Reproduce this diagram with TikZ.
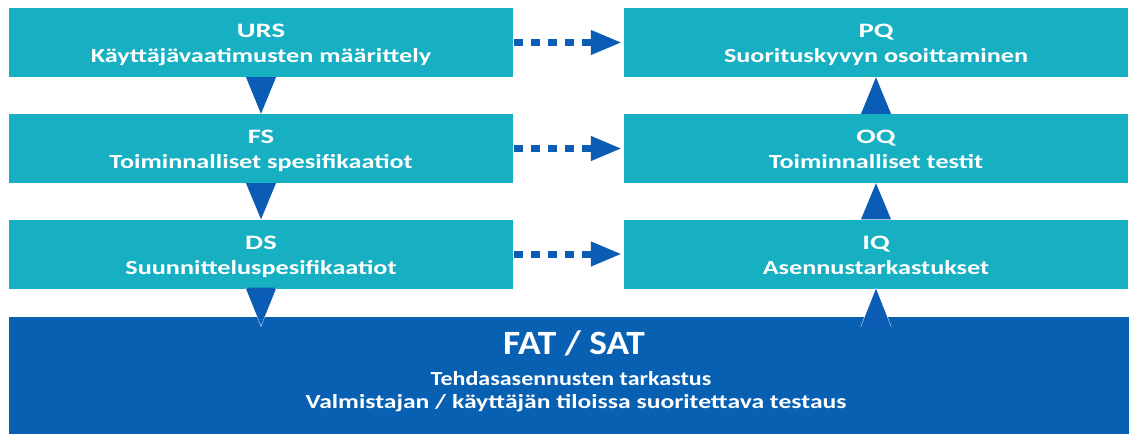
\documentclass[tikz,border=0pt]{standalone}
\usepackage{fontspec}
\setmainfont{Carlito}
\usetikzlibrary{arrows.meta,calc}
\definecolor{tealbox}{RGB}{22,176,194}
\definecolor{darkblue}{RGB}{8,96,178}
\definecolor{triblue}{RGB}{10,92,180}
\newcommand\xstretch[2]{\scalebox{#1}[1]{#2}}
\tikzset{
  box/.style={fill=tealbox, inner sep=0pt, minimum width=504pt, minimum height=69pt},
  bigbox/.style={fill=darkblue, inner sep=0pt, minimum width=1120pt, minimum height=117pt},
  tri/.style={fill=triblue, draw=white, line width=0.8pt, line join=miter},
  dotarrow/.style={triblue, line width=7pt, dash pattern=on 9pt off 8pt, -{Triangle[length=31pt,width=23pt]}, shorten >=2pt},
  ttl/.style={anchor=base, inner sep=0pt, text=white, font=\fontsize{20.5}{24}\selectfont\bfseries},
  sub/.style={anchor=base, inner sep=0pt, text=white, font=\fontsize{20}{24}\selectfont\bfseries}
}
\begin{document}
\begin{tikzpicture}[x=1pt,y=-1pt]
\useasboundingbox (0,0) rectangle (1129,434);
\fill[white] (0,0) rectangle (1129,434);
\node[bigbox] (fat) at (569,375.5) {};
\node[box] (urs) at (261,42.5) {};
\node[box] (fs) at (261,148.5) {};
\node[box] (ds) at (261,254) {};
\node[box] (pq) at (876,42.5) {};
\node[box] (oq) at (876,148.5) {};
\node[box] (iq) at (876,254) {};
% texts
\node[ttl] (ursT) at ($(urs.north)+(0,30)$) {\xstretch{1.4}{URS}};
\node[sub] (ursS) at ($(urs.north)+(0,55)$) {\xstretch{1.31}{Käyttäjävaatimusten määrittely}};
\node[ttl] (fsT) at ($(fs.north)+(0,30)$) {\xstretch{1.4}{FS}};
\node[sub] (fsS) at ($(fs.north)+(0,55)$) {\xstretch{1.31}{Toiminnalliset spesifikaatiot}};
\node[ttl] (dsT) at ($(ds.north)+(0,30)$) {\xstretch{1.4}{DS}};
\node[sub] (dsS) at ($(ds.north)+(0,55)$) {\xstretch{1.31}{Suunnitteluspesifikaatiot}};
\node[ttl] (pqT) at ($(pq.north)+(0,30)$) {\xstretch{1.4}{PQ}};
\node[sub] (pqS) at ($(pq.north)+(0,55)$) {\xstretch{1.31}{Suorituskyvyn osoittaminen}};
\node[ttl] (oqT) at ($(oq.north)+(0,30)$) {\xstretch{1.4}{OQ}};
\node[sub] (oqS) at ($(oq.north)+(0,55)$) {\xstretch{1.31}{Toiminnalliset testit}};
\node[ttl] (iqT) at ($(iq.north)+(0,30)$) {\xstretch{1.4}{IQ}};
\node[sub] (iqS) at ($(iq.north)+(0,55)$) {\xstretch{1.31}{Asennustarkastukset}};
\node[ttl, font=\fontsize{34}{36}\selectfont\bfseries] (fatT) at ($(fat.north)+(5,38)$) {\xstretch{1.1}{FAT / SAT}};
\node[sub] (fatS1) at ($(fat.north)+(2,69)$) {\xstretch{1.2}{Tehdasasennusten tarkastus}};
\node[sub] (fatS2) at ($(fat.north)+(7,92)$) {\xstretch{1.28}{Valmistajan / käyttäjän tiloissa suoritettava testaus}};
% down triangles
\fill[triblue] ($(urs.south)+(-15,0)$) -- ($(urs.south)+(15,0)$) -- (fs.north) -- cycle;
\fill[triblue] ($(fs.south)+(-15,0)$) -- ($(fs.south)+(15,0)$) -- (ds.north) -- cycle;
\coordinate (dstip) at ($(ds.south)+(0,37)$);
\draw[tri] ($(ds.south)+(-15,-1)$) -- (dstip) -- ($(ds.south)+(15,-1)$);
\fill[triblue] ($(ds.south)+(-15,0)$) -- ($(ds.south)+(15,0)$) -- (dstip) -- cycle;
% up triangles
\fill[triblue] ($(oq.north)+(-15,0)$) -- ($(oq.north)+(15,0)$) -- (pq.south) -- cycle;
\fill[triblue] ($(iq.north)+(-15,0)$) -- ($(iq.north)+(15,0)$) -- (oq.south) -- cycle;
\coordinate (iqbl) at ($(iq.south)+(-15,38)$);
\coordinate (iqbr) at ($(iq.south)+(15,38)$);
\draw[tri] (iqbl) -- (iq.south) -- (iqbr);
\fill[triblue] (iqbl) -- (iqbr) -- (iq.south) -- cycle;
% dotted arrows
\draw[dotarrow] ($(urs.east)+(1,0)$) -- (pq.west);
\draw[dotarrow] ($(fs.east)+(1,0)$) -- (oq.west);
\draw[dotarrow] ($(ds.east)+(1,0)$) -- (iq.west);
\end{tikzpicture}
\end{document}
